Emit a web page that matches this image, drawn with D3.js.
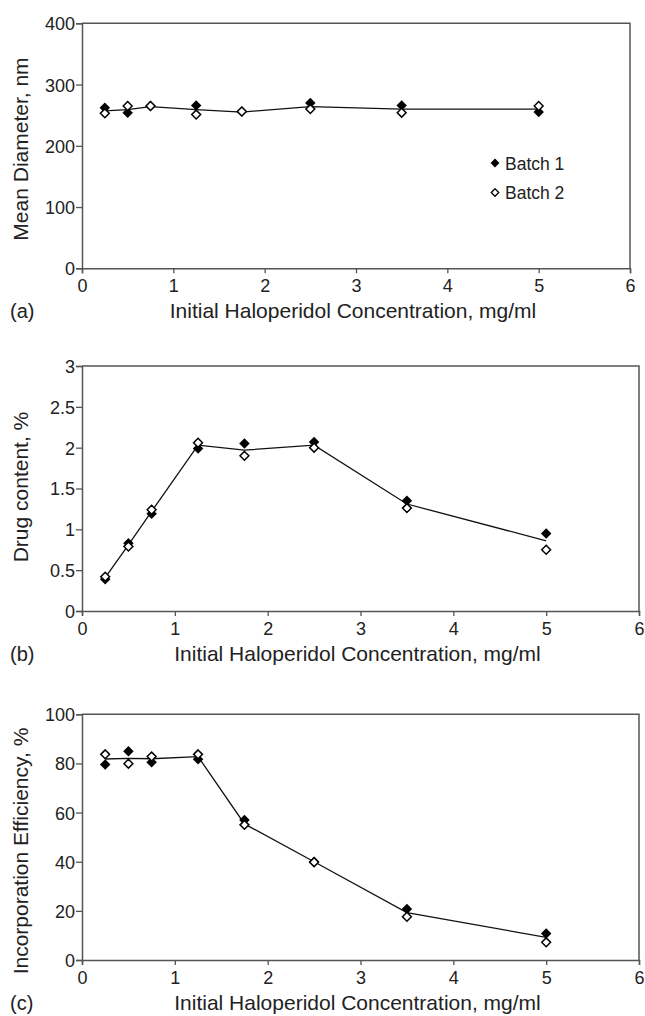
<!DOCTYPE html>
<html>
<head>
<meta charset="utf-8">
<script src="https://cdn.jsdelivr.net/npm/d3@7"></script>
<style>
  body { margin: 0; background: #fff; }
  svg { display: block; font-family: "Liberation Sans", Arial, sans-serif; }
</style>
</head>
<body>
<div id="chart"></div>
<script>
// haloperidol concentration, mg/ml
const conc = [0.25, 0.5, 0.75, 1.25, 1.75, 2.5, 3.5, 5];
const concTicks = [0, 1, 2, 3, 4, 5, 6];

// (a) mean diameter, nm
const diamBatch1 = [262, 254, 265, 266, 256, 270, 266, 255];
const diamBatch2 = [253, 265, 265, 251, 256, 260, 254, 265];
const diamMean = [257, 259, 264, 259, 255, 264, 260, 260];
const diamTicks = [0, 100, 200, 300, 400];

// (b) drug content, %
const drugBatch1 = [0.39, 0.83, 1.19, 1.99, 2.05, 2.07, 1.35, 0.95];
const drugBatch2 = [0.42, 0.79, 1.24, 2.06, 1.90, 2.00, 1.26, 0.75];
const drugMean = [0.41, 0.81, 1.22, 2.03, 1.97, 2.03, 1.31, 0.86];
const drugTicks = [0, 0.5, 1, 1.5, 2, 2.5, 3];

// (c) incorporation efficiency, %
const effBatch1 = [79.6, 85, 80.5, 81.7, 57, 40, 20.8, 10.8];
const effBatch2 = [83.7, 79.9, 82.8, 83.7, 55, 39.8, 17.6, 7.2];
const effMean = [81.8, 82.1, 81.9, 82.8, 55.4, 40, 19.3, 9.2];
const effTicks = [0, 20, 40, 60, 80, 100];

const legendLabels = ["Batch 1", "Batch 2"];
const xTitle = "Initial Haloperidol Concentration, mg/ml";

const width = 645, height = 1016;
const svg = d3.select("#chart").append("svg")
  .attr("width", width)
  .attr("height", height);

const diamond = d3.symbol().type(d3.symbolDiamond2);

function panel(p) {
  const x = d3.scaleLinear().domain([0, 6]).range([p.left, p.right]);
  const y = d3.scaleLinear().domain([0, p.ticks[p.ticks.length - 1]]).range([p.bottom, p.top]);
  const g = svg.append("g");

  // frame (top + right)
  g.append("path")
    .attr("d", `M${p.left},${p.top}H${p.right}V${p.bottom}`)
    .attr("fill", "none")
    .attr("stroke", "#555")
    .attr("stroke-width", 1.5);

  const xa = g.append("g")
    .attr("transform", `translate(0,${p.bottom})`)
    .call(d3.axisBottom(x).tickValues(concTicks).tickSize(5).tickPadding(5).tickFormat(d => d));
  const ya = g.append("g")
    .attr("transform", `translate(${p.left},0)`)
    .call(d3.axisLeft(y).tickValues(p.ticks).tickSize(6).tickPadding(1).tickFormat(d => d));
  [xa, ya].forEach(a => {
    a.selectAll(".domain").attr("stroke", "#555").attr("stroke-width", 1.5);
    a.selectAll(".tick line").attr("stroke", "#555").attr("stroke-width", 1.3);
    a.selectAll("text").attr("font-size", 18).attr("fill", "#222")
      .attr("font-family", "'Liberation Sans', Arial, sans-serif");
  });
  xa.selectAll("text").attr("dy", null).attr("y", 24);
  ya.selectAll("text").attr("dy", "0.36em");

  // titles
  g.append("text")
    .attr("x", (p.left + p.right) / 2 - 3)
    .attr("y", p.bottom + 50)
    .attr("text-anchor", "middle")
    .attr("font-size", 21)
    .attr("fill", "#222")
    .text(xTitle);
  g.append("text")
    .attr("x", 10)
    .attr("y", p.bottom + 50)
    .attr("font-size", 20)
    .attr("fill", "#222")
    .text(p.tag);
  g.append("text")
    .attr("transform", `translate(28,${p.yTitleMid}) rotate(-90)`)
    .attr("text-anchor", "middle")
    .attr("font-size", 21)
    .attr("fill", "#222")
    .text(p.yTitle);

  // line through the mean
  g.append("path")
    .datum(conc.map((c, i) => [c, p.mean[i]]))
    .attr("fill", "none")
    .attr("stroke", "#111")
    .attr("stroke-width", 1.3)
    .attr("d", d3.line().x(d => x(d[0])).y(d => y(d[1])));

  g.append("g").selectAll("path")
    .data(conc.map((c, i) => [c, p.b1[i]]))
    .join("path")
    .attr("transform", d => `translate(${x(d[0])},${y(d[1])})`)
    .attr("d", diamond.size(70))
    .attr("fill", "#000");
  g.append("g").selectAll("path")
    .data(conc.map((c, i) => [c, p.b2[i]]))
    .join("path")
    .attr("transform", d => `translate(${x(d[0])},${y(d[1])})`)
    .attr("d", diamond.size(50))
    .attr("fill", "#fff")
    .attr("stroke", "#000")
    .attr("stroke-width", 1.5);
}

panel({left: 82, right: 630, top: 23.3, bottom: 268.3, ticks: diamTicks,
  b1: diamBatch1, b2: diamBatch2, mean: diamMean,
  yTitle: "Mean Diameter, nm", yTitleMid: 149, tag: "(a)"});
panel({left: 82, right: 639, top: 366, bottom: 611, ticks: drugTicks,
  b1: drugBatch1, b2: drugBatch2, mean: drugMean,
  yTitle: "Drug content, %", yTitleMid: 487, tag: "(b)"});
panel({left: 82, right: 639, top: 714.3, bottom: 960, ticks: effTicks,
  b1: effBatch1, b2: effBatch2, mean: effMean,
  yTitle: "Incorporation Efficiency, %", yTitleMid: 851, tag: "(c)"});

// legend in panel (a)
const legend = svg.append("g");
legendLabels.forEach((lab, i) => {
  const ly = 163 + i * 29.5;
  legend.append("path")
    .attr("transform", `translate(495,${ly})`)
    .attr("d", diamond.size(i ? 36 : 50))
    .attr("fill", i ? "#fff" : "#000")
    .attr("stroke", i ? "#000" : "none")
    .attr("stroke-width", 1.3);
  legend.append("text")
    .attr("x", 505)
    .attr("y", ly + 6.5)
    .attr("font-size", 17.5)
    .attr("fill", "#222")
    .text(lab);
});
</script>
</body>
</html>
